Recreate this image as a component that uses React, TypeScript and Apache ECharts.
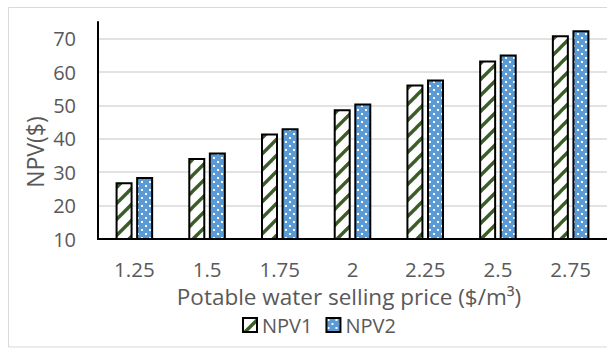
import React, { useEffect, useRef } from "react";
import * as echarts from "echarts";

// Potable water selling price ($/m³) and resulting net present values
const categories = ["1.25", "1.5", "1.75", "2", "2.25", "2.5", "2.75"];
const npv1 = [27.0, 34.3, 41.6, 48.9, 56.3, 63.5, 71.0];
const npv2 = [28.6, 35.9, 43.2, 50.6, 57.8, 65.3, 72.5];
const yMin = 10;
const yMax = 75;
const yStep = 10;

const FONT = "Open Sans";
const TEXT = "#595959";
const GREEN = "#3b5e27";
const BLUE = "#5b9bd5";

// wide upward diagonal stripes on white
function stripePattern() {
  const s = 16;
  const c = document.createElement("canvas");
  c.width = s;
  c.height = s;
  const g = c.getContext("2d")!;
  g.fillStyle = "#ffffff";
  g.fillRect(0, 0, s, s);
  g.strokeStyle = GREEN;
  g.lineWidth = 3.4;
  for (const o of [-s, 0, s]) {
    g.beginPath();
    g.moveTo(o - 2, s + 2);
    g.lineTo(o + s + 2, -2);
    g.stroke();
  }
  return { image: c.toDataURL(), imageWidth: s, imageHeight: s, repeat: "repeat" };
}

// white dotted grid on blue
function dotPattern() {
  const s = 8;
  const c = document.createElement("canvas");
  c.width = s;
  c.height = s;
  const g = c.getContext("2d")!;
  g.fillStyle = BLUE;
  g.fillRect(0, 0, s, s);
  g.fillStyle = "#ffffff";
  g.fillRect(1, 1, 2, 2);
  g.fillRect(5, 5, 2, 2);
  return { image: c.toDataURL(), imageWidth: s, imageHeight: s, repeat: "repeat" };
}

export default function App() {
  const ref = useRef<HTMLDivElement>(null);

  useEffect(() => {
    if (!ref.current) return;
    const chart = echarts.init(ref.current, null, { renderer: "svg" });
    const stripes = stripePattern();
    const dots = dotPattern();

    chart.setOption({
      animation: false,
      backgroundColor: "#ffffff",
      grid: { left: 98, right: -1, top: 22, bottom: 110, containLabel: false },
      legend: {
        left: 242,
        top: 315,
        padding: 0,
        icon: "rect",
        itemWidth: 14,
        itemHeight: 14,
        itemGap: 13,
        textStyle: { fontFamily: FONT, fontSize: 20, color: TEXT, lineHeight: 18 },
        data: ["NPV1", "NPV2"],
      },
      xAxis: {
        type: "category",
        data: categories,
        axisLine: { lineStyle: { color: "#000000", width: 2 } },
        axisTick: { show: false },
        axisLabel: { fontFamily: FONT, fontSize: 20.5, color: TEXT, margin: 21, lineHeight: 18 },
      },
      yAxis: {
        type: "value",
        min: yMin,
        max: yMax,
        interval: yStep,
        axisLine: { show: true, lineStyle: { color: "#000000", width: 2 } },
        axisTick: { show: false },
        axisLabel: { fontFamily: FONT, fontSize: 20, color: TEXT, margin: 22, showMaxLabel: false, lineHeight: 18 },
        splitLine: { show: true, showMaxLine: false, showMinLine: false, lineStyle: { color: "#d9d9d9", width: 1.5 } },
      },
      graphic: [
        {
          type: "rect",
          z: -10,
          silent: true,
          shape: { x: 8.5, y: 7.5, width: 640, height: 339.5 },
          style: { fill: "none", stroke: "#d9d9d9", lineWidth: 1 },
        },
        {
          type: "text",
          x: 35,
          y: 152,
          rotation: Math.PI / 2,
          style: {
            text: "NPV($)",
            fontFamily: FONT,
            fontSize: 23,
            lineHeight: 20,
            fill: TEXT,
            align: "center",
            verticalAlign: "middle",
          },
        },
        {
          type: "text",
          x: 349,
          y: 296.5,
          style: {
            text: "Potable water selling price ($/m³)",
            fontFamily: FONT,
            fontSize: 22.5,
            lineHeight: 20,
            fill: TEXT,
            align: "center",
            verticalAlign: "middle",
          },
        },
      ],
      series: [
        {
          name: "NPV1",
          type: "bar",
          data: npv1,
          barWidth: 17,
          barGap: "21%",
          itemStyle: { color: stripes, borderColor: "#000000", borderWidth: 2 },
        },
        {
          name: "NPV2",
          type: "bar",
          data: npv2,
          barWidth: 17,
          itemStyle: { color: dots, borderColor: "#000000", borderWidth: 2 },
        },
      ],
    });

    return () => chart.dispose();
  }, []);

  return <div ref={ref} style={{ position: "absolute", left: 0, top: 0, width: 607, height: 349 }} />;
}
